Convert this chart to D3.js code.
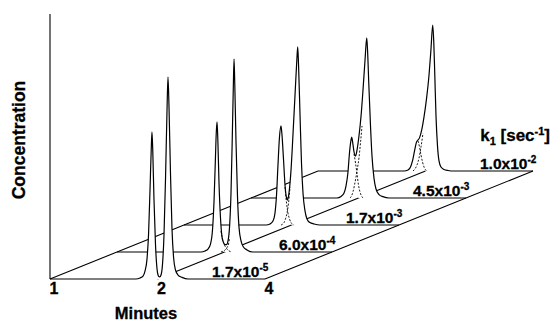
<!DOCTYPE html>
<html>
<head>
<meta charset="utf-8">
<script src="https://cdn.jsdelivr.net/npm/d3@7"></script>
<style>
  body { margin: 0; background: #fff; }
  text { stroke: #000; stroke-width: 0.3px; }
</style>
</head>
<body>
<div id="chart"></div>
<script>
// minutes ticks on the front edge
var timeTicks = [1, 2, 4];

// rate constant of each trace, front to back
var rateMant = ['1.7', '6.0', '1.7', '4.5', '1.0'];
var rateExp = ['-5', '-4', '-3', '-3', '-2'];

// traces: [minutes, concentration (arb. units)]
var trace0 = [[1,0],[1.741,0],[1.787,0.4],[1.822,1.1],[1.845,3.0],[1.869,7.5],[1.888,17],[1.906,34],[1.921,49],[1.930,55.5],[1.940,48.3],[1.955,30.2],[1.974,13.2],[1.994,3.8],[2.013,1.1],[2.029,0.8],[2.046,1.5],[2.066,5.7],[2.086,17],[2.106,37.7],[2.127,64.2],[2.140,76.2],[2.154,64.9],[2.175,39.6],[2.196,18.9],[2.218,8.3],[2.246,3.4],[2.283,1.5],[2.343,0.6],[2.437,0],[4,0]];
var trace1 = [[1,0],[1.719,0],[1.764,0.4],[1.798,1.1],[1.827,3.0],[1.851,8.3],[1.869,18.9],[1.885,34.0],[1.897,45.3],[1.906,49.1],[1.916,42.3],[1.930,26.4],[1.949,12.8],[1.968,5.7],[1.987,3.6],[2.006,2.8],[2.026,2.8],[2.046,4.2],[2.066,9.4],[2.086,22.6],[2.103,43.4],[2.117,62.3],[2.127,72.8],[2.137,63.4],[2.154,41.5],[2.175,20.8],[2.196,9.4],[2.225,4.2],[2.260,1.9],[2.312,0.8],[2.401,0],[4,0]];
var trace2 = [[1,0],[1.697,0],[1.741,0.4],[1.775,1.5],[1.798,4.5],[1.816,11.3],[1.833,22.6],[1.851,33.2],[1.869,37.4],[1.881,34.0],[1.900,24.5],[1.918,15.1],[1.937,10.2],[1.949,9.4],[1.968,12.1],[1.994,20.8],[2.019,34.0],[2.046,49.1],[2.070,62.3],[2.082,67.2],[2.093,60.4],[2.113,41.5],[2.133,23.4],[2.154,12.1],[2.182,5.3],[2.210,2.3],[2.253,0.9],[2.312,0.4],[2.401,0],[4,0]];
var trace3 = [[1,0],[1.741,0],[1.787,0.6],[1.822,1.9],[1.845,4.5],[1.869,9.8],[1.887,17.0],[1.906,21.9],[1.914,23.0],[1.924,21.5],[1.943,17.4],[1.962,15.8],[1.981,18.1],[2.006,23.4],[2.033,30.9],[2.059,40.8],[2.086,52.1],[2.109,60.4],[2.120,55.8],[2.137,43.4],[2.161,27.2],[2.182,15.8],[2.210,7.5],[2.239,3.4],[2.283,1.3],[2.342,0.5],[2.435,0],[4,0]];
var trace4 = [[1,0],[1.741,0],[1.787,0.4],[1.816,1.5],[1.839,3.8],[1.863,7.5],[1.887,10.9],[1.906,11.7],[1.924,12.5],[1.949,15.1],[1.981,20.4],[2.013,27.2],[2.046,36.2],[2.072,46.0],[2.095,55.1],[2.109,49.1],[2.124,35.8],[2.140,20.8],[2.161,9.4],[2.182,3.8],[2.210,1.5],[2.253,0.6],[2.312,0.2],[2.401,0],[4,0]];

// dashed single-peak tails where the two peaks overlap
var dash1A = [[1.955,7.9],[1.974,4.9],[1.994,3.0],[2.013,1.9],[2.033,1.1],[2.059,0.4],[2.099,0]];
var dash1B = [[1.955,0],[1.987,0.4],[2.013,0.9],[2.033,1.7],[2.053,3.0],[2.066,5.3]];
var dash2A = [[1.918,14.3],[1.937,8.3],[1.955,4.5],[1.974,2.3],[1.994,0.9],[2.013,0.3],[2.033,0]];
var dash2B = [[1.869,0],[1.888,0.3],[1.906,0.9],[1.924,2.3],[1.943,4.5],[1.962,8.3],[1.981,14.3]];
var dash3A = [[1.943,16.6],[1.962,13.2],[1.981,9.1],[2.000,4.9],[2.019,2.3],[2.039,0.8],[2.059,0]];
var dash3B = [[1.894,0],[1.912,0.8],[1.930,2.3],[1.949,4.9],[1.968,7.9],[1.987,11.3],[2.006,15.1],[2.026,20.8],[2.046,27.2]];
var dash4A = [[1.906,11.3],[1.924,9.1],[1.943,6.0],[1.962,3.4],[1.981,1.5],[2.000,0.5],[2.019,0]];
var dash4B = [[1.845,0],[1.869,0.8],[1.894,2.3],[1.918,4.9],[1.943,9.1],[1.968,14.3]];

var traces = [trace0, trace1, trace2, trace3, trace4];
var dashes = [[], [dash1A, dash1B], [dash2A, dash2B], [dash3A, dash3B], [dash4A, dash4B]];

var width = 553, height = 322;

var svg = d3.select('#chart').append('svg')
    .attr('width', width)
    .attr('height', height)
    .style('font-family', '"Liberation Sans", Arial, Helvetica, sans-serif')
    .style('font-weight', 'bold');

var x = d3.scaleLog().domain([1, 4]).range([50, 265]);
var y = d3.scaleLinear().domain([0, 100]).range([279, 14]);
// depth runs from the front trace (0) to the back trace (1)
var depth = d3.scalePoint().domain(d3.range(traces.length)).range([0, 1]);
var backDx = 268, backDy = -108; // shift of the back trace

function px(t, i) { return x(t) + depth(i) * backDx; }
function py(c, i) { return y(c) + depth(i) * backDy; }

var plot = svg.append('g');

function drawTrace(i) {
    var area = d3.area()
        .curve(d3.curveMonotoneX)
        .x(d => px(d[0], i))
        .y0(py(0, i))
        .y1(d => py(d[1], i));
    var line = d3.line()
        .curve(d3.curveMonotoneX)
        .x(d => px(d[0], i))
        .y(d => py(d[1], i));

    // white fill hides whatever lies behind the peaks
    plot.append('path')
        .datum(traces[i])
        .attr('d', area)
        .attr('fill', '#fff');
    plot.append('path')
        .datum(traces[i])
        .attr('d', line)
        .attr('fill', 'none')
        .attr('stroke', '#000')
        .attr('stroke-width', 1.2)
        .attr('stroke-linejoin', 'round');
    dashes[i].forEach(function(dd) {
        plot.append('path')
            .datum(dd)
            .attr('d', line)
            .attr('fill', 'none')
            .attr('stroke', '#000')
            .attr('stroke-width', 0.9)
            .attr('stroke-dasharray', '2,1.6');
    });
}

// floor lines at each tick, between two neighbouring traces
function drawFloor(a, b) {
    timeTicks.forEach(function(t) {
        plot.append('line')
            .attr('x1', px(t, a)).attr('y1', py(0, a))
            .attr('x2', px(t, b)).attr('y2', py(0, b))
            .attr('stroke', '#000')
            .attr('stroke-width', 1.1);
    });
}

// back to front so nearer traces cover farther ones
for (var i = traces.length - 1; i >= 0; i--) {
    drawTrace(i);
    if (i > 0) drawFloor(i - 1, i);
}

// concentration axis
svg.append('line')
    .attr('x1', x(1)).attr('y1', y(0))
    .attr('x2', x(1)).attr('y2', y(100))
    .attr('stroke', '#000')
    .attr('stroke-width', 1.1);

// minutes tick labels
svg.selectAll('.tick')
    .data(timeTicks)
    .enter().append('text')
    .attr('class', 'tick')
    .attr('x', d => x(d) + 4)
    .attr('y', y(0) + 15)
    .attr('text-anchor', 'middle')
    .style('font-size', '16px')
    .text(d => d);

svg.append('text')
    .attr('x', 146)
    .attr('y', 319)
    .attr('text-anchor', 'middle')
    .style('font-size', '16.5px')
    .text('Minutes');

svg.append('text')
    .attr('transform', 'translate(25,140) rotate(-90)')
    .attr('text-anchor', 'middle')
    .style('font-size', '17.5px')
    .text('Concentration');

// rate constant labels sitting on each trace baseline
rateMant.forEach(function(m, i) {
    var t = svg.append('text')
        .attr('x', px(4, i) - 53)
        .attr('y', py(0, i) - 2.5)
        .style('font-size', '15.5px');
    t.append('tspan').text(m + 'x10');
    t.append('tspan')
        .attr('dy', -6)
        .style('font-size', '10px')
        .text(rateExp[i]);
});

var k = svg.append('text')
    .attr('x', 550)
    .attr('y', 141)
    .attr('text-anchor', 'end')
    .style('font-size', '17px');
k.append('tspan').text('k');
k.append('tspan').attr('dy', 4).style('font-size', '11px').text('1');
k.append('tspan').attr('dy', -4).text(' [sec');
k.append('tspan').attr('dy', -6).style('font-size', '11px').text('-1');
k.append('tspan').attr('dy', 6).text(']');
</script>
</body>
</html>
